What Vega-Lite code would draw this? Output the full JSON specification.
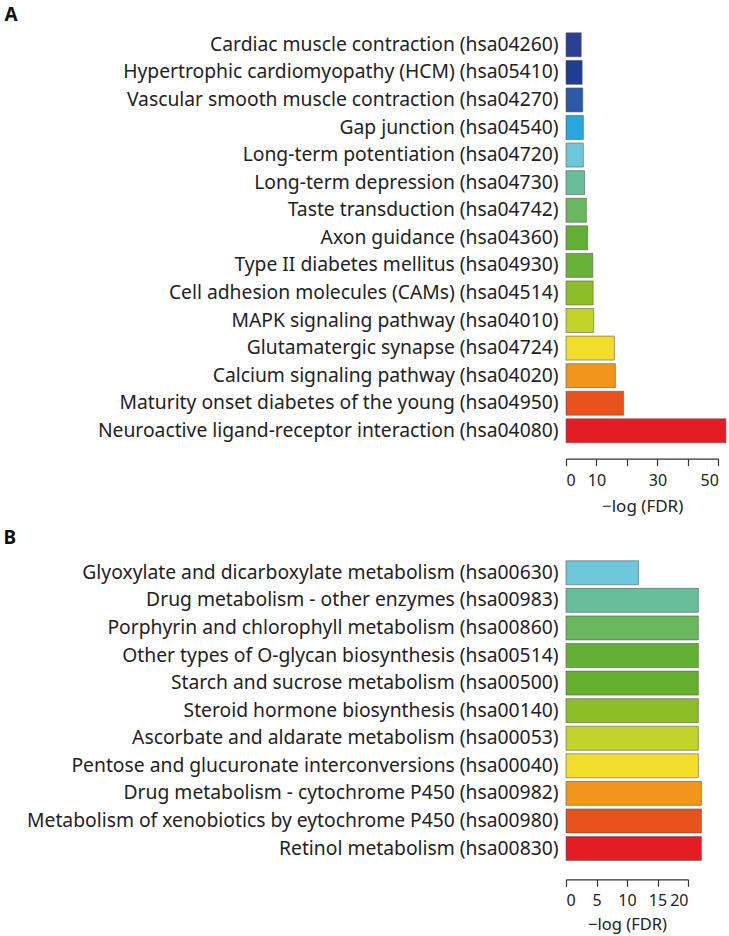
{
  "$schema": "https://vega.github.io/schema/vega-lite/v6.json",
  "background": "white",
  "padding": {"left": 3, "top": 6, "right": 0, "bottom": 0},
  "config": {
    "font": "Noto Sans",
    "view": {"stroke": null},
    "concat": {"spacing": 14},
    "axis": {"labelColor": "#222222", "titleColor": "#222222", "domainColor": "#333333", "tickColor": "#333333", "domainWidth": 1.2, "tickWidth": 1.2}
  },
  "datasets": {
    "a": [
      {"rank": 1, "pathway": "Cardiac muscle contraction (hsa04260)", "value": 5.0, "color": "#2B3F95"},
      {"rank": 2, "pathway": "Hypertrophic cardiomyopathy (HCM) (hsa05410)", "value": 5.3, "color": "#1F3E93"},
      {"rank": 3, "pathway": "Vascular smooth muscle contraction (hsa04270)", "value": 5.5, "color": "#2C58A8"},
      {"rank": 4, "pathway": "Gap junction (hsa04540)", "value": 5.7, "color": "#2AA6DE"},
      {"rank": 5, "pathway": "Long-term potentiation (hsa04720)", "value": 5.7, "color": "#6DC7D8"},
      {"rank": 6, "pathway": "Long-term depression (hsa04730)", "value": 6.1, "color": "#66BE9A"},
      {"rank": 7, "pathway": "Taste transduction (hsa04742)", "value": 6.7, "color": "#6AB85E"},
      {"rank": 8, "pathway": "Axon guidance (hsa04360)", "value": 7.1, "color": "#64B033"},
      {"rank": 9, "pathway": "Type II diabetes mellitus (hsa04930)", "value": 8.8, "color": "#69B23A"},
      {"rank": 10, "pathway": "Cell adhesion molecules (CAMs) (hsa04514)", "value": 8.9, "color": "#8DBD27"},
      {"rank": 11, "pathway": "MAPK signaling pathway (hsa04010)", "value": 9.1, "color": "#C2D42A"},
      {"rank": 12, "pathway": "Glutamatergic synapse (hsa04724)", "value": 15.9, "color": "#F2DE2A"},
      {"rank": 13, "pathway": "Calcium signaling pathway (hsa04020)", "value": 16.2, "color": "#F1951D"},
      {"rank": 14, "pathway": "Maturity onset diabetes of the young (hsa04950)", "value": 18.9, "color": "#E8521C"},
      {"rank": 15, "pathway": "Neuroactive ligand-receptor interaction (hsa04080)", "value": 52.5, "color": "#E31D23"}
    ],
    "b": [
      {"rank": 1, "pathway": "Glyoxylate and dicarboxylate metabolism (hsa00630)", "value": 11.9, "color": "#6DC7D8"},
      {"rank": 2, "pathway": "Drug metabolism - other enzymes (hsa00983)", "value": 21.7, "color": "#66BE9A"},
      {"rank": 3, "pathway": "Porphyrin and chlorophyll metabolism (hsa00860)", "value": 21.7, "color": "#6AB85E"},
      {"rank": 4, "pathway": "Other types of O-glycan biosynthesis (hsa00514)", "value": 21.7, "color": "#64B033"},
      {"rank": 5, "pathway": "Starch and sucrose metabolism (hsa00500)", "value": 21.7, "color": "#65B12F"},
      {"rank": 6, "pathway": "Steroid hormone biosynthesis (hsa00140)", "value": 21.7, "color": "#8DBD27"},
      {"rank": 7, "pathway": "Ascorbate and aldarate metabolism (hsa00053)", "value": 21.7, "color": "#C2D42A"},
      {"rank": 8, "pathway": "Pentose and glucuronate interconversions (hsa00040)", "value": 21.7, "color": "#F2DE2A"},
      {"rank": 9, "pathway": "Drug metabolism - cytochrome P450 (hsa00982)", "value": 22.2, "color": "#F1951D"},
      {"rank": 10, "pathway": "Metabolism of xenobiotics by eytochrome P450 (hsa00980)", "value": 22.2, "color": "#E8521C"},
      {"rank": 11, "pathway": "Retinol metabolism (hsa00830)", "value": 22.2, "color": "#E31D23"}
    ]
  },
  "vconcat": [
    {
      "title": {"text": "A", "anchor": "start", "fontSize": 19, "fontWeight": "bold", "color": "#111111", "dx": -93, "offset": 6},
      "data": {"name": "a"},
      "width": 160,
      "height": 413.6,
      "mark": {"type": "bar", "stroke": "#555555", "strokeWidth": 0.8, "strokeOpacity": 0.7},
      "encoding": {
        "y": {
          "field": "pathway", "type": "nominal",
          "sort": {"field": "rank", "op": "min", "order": "ascending"},
          "scale": {"paddingInner": 0.13, "paddingOuter": 0.065},
          "axis": {"title": null, "ticks": false, "domain": false, "labelPadding": 8, "labelFontSize": 19.3, "labelLimit": 0}
        },
        "x": {
          "field": "value", "type": "quantitative",
          "scale": {"domain": [0, 50], "range": [0, 152.3], "nice": false, "zero": true},
          "axis": {
            "values": [0, 10, 20, 30, 40, 50],
            "labelExpr": "datum.value == 20 || datum.value == 40 ? '' : datum.label",
            "offset": 14, "grid": false, "tickSize": 7, "labelFontSize": 16, "labelPadding": 7,
            "title": "−log (FDR)", "titleFontSize": 17, "titleFontWeight": "normal", "titlePadding": 9.5
          }
        },
        "fill": {"field": "color", "type": "nominal", "scale": null}
      }
    },
    {
      "title": {"text": "B", "anchor": "start", "fontSize": 19, "fontWeight": "bold", "color": "#111111", "dx": -23, "offset": 11},
      "data": {"name": "b"},
      "width": 136,
      "height": 303.3,
      "mark": {"type": "bar", "stroke": "#555555", "strokeWidth": 0.8, "strokeOpacity": 0.7},
      "encoding": {
        "y": {
          "field": "pathway", "type": "nominal",
          "sort": {"field": "rank", "op": "min", "order": "ascending"},
          "scale": {"paddingInner": 0.13, "paddingOuter": 0.065},
          "axis": {"title": null, "ticks": false, "domain": false, "labelPadding": 8, "labelFontSize": 19.3, "labelLimit": 0}
        },
        "x": {
          "field": "value", "type": "quantitative",
          "scale": {"domain": [0, 20], "range": [0, 122], "nice": false, "zero": true},
          "axis": {
            "values": [0, 5, 10, 15, 20],
            "offset": 17, "grid": false, "tickSize": 7, "labelFontSize": 16, "labelPadding": 6,
            "title": "−log (FDR)", "titleFontSize": 16.5, "titleFontWeight": "normal", "titlePadding": 8.5
          }
        },
        "fill": {"field": "color", "type": "nominal", "scale": null}
      }
    }
  ]
}
